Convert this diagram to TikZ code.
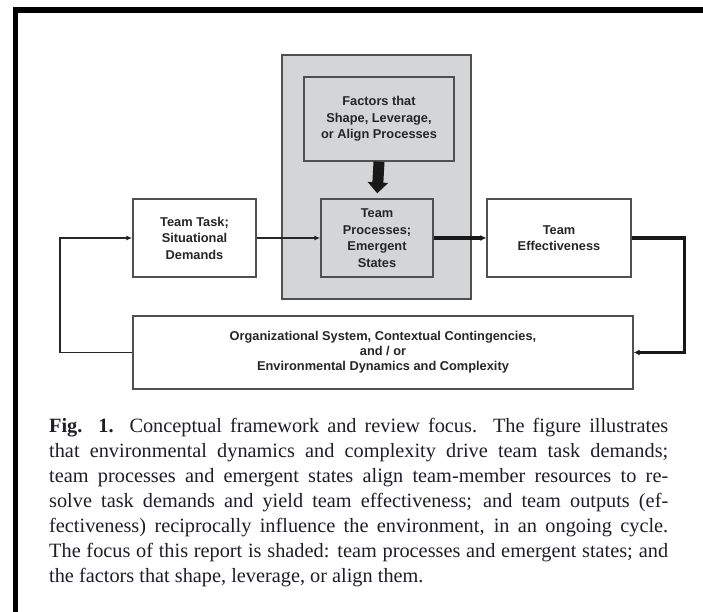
\documentclass[tikz,border=0pt]{standalone}
\usepackage{fontspec}
\setmainfont{Liberation Serif}
\newfontfamily\diagfont{Liberation Sans}
\usetikzlibrary{arrows.meta}
\definecolor{shade}{RGB}{212,213,215}
\definecolor{edge}{RGB}{80,80,80}
\definecolor{capcol}{RGB}{30,30,40}
\begin{document}
\begin{tikzpicture}[x=1pt,y=-1pt,
  box/.style={draw=edge, line width=1.3pt, fill=white, inner sep=0pt,
    font=\diagfont\bfseries\fontsize{12.8}{16.5}\selectfont, text=black!85, align=center},
  thinarrow/.style={draw=black!85, line width=1.8pt, -{Latex[length=6pt,width=5pt]}},
  thickarrow/.style={draw=black!90, line width=3.2pt, -{Latex[length=6pt,width=6pt]}},
  blockarrow/.style={draw=black!90, line width=11pt, -{Triangle[width=20pt,length=11pt]}, shorten >=5pt}
]
\useasboundingbox (0,0) rectangle (703,612);
\fill[white] (0,0) rectangle (703,612);
% frame
\fill[black] (13,7) rectangle (703,13);
\fill[black] (13,7) rectangle (18,612);
% shaded focus
\node[draw=edge, line width=1.3pt, fill=shade, minimum width=189pt, minimum height=244pt, inner sep=0pt] (focus) at (376.5,177) {};
\node[box, fill=shade, minimum width=150pt, minimum height=84pt] (factors) at (379,119) {Factors that\\Shape, Leverage,\\or Align Processes};
\node[box, fill=shade, minimum width=112pt, minimum height=78pt] (proc) at (377,238) {Team\\Processes;\\Emergent\\States};
\node[box, minimum width=123pt, minimum height=78pt] (task) at (194.5,238) {Team Task;\\Situational\\Demands};
\node[box, minimum width=144pt, minimum height=78pt] (eff) at (559,238) {Team\\Effectiveness};
\node[box, minimum width=500pt, minimum height=73pt, font=\diagfont\bfseries\fontsize{12.8}{15}\selectfont] (org) at (383,352.5) {Organizational System, Contextual Contingencies,\\and / or\\Environmental Dynamics and Complexity};
% connectors
\draw[blockarrow] (factors.south) -- (proc.north);
\draw[thinarrow] (task.east) -- (proc.west);
\draw[thickarrow] (proc.east) -- (eff.west);
\draw[thickarrow] (eff.east) -- ++(53,0) |- (org.east);
\draw[thinarrow] (org.west) -- ++(-72,0) |- (task.west);
% caption
\node[anchor=north west, inner sep=0pt, align=left, text=capcol,
  font=\fontsize{20.3}{25}\selectfont] (cap) at (49,418) {%
\makebox[619pt][s]{\textbf{Fig. 1.} Conceptual framework and review focus. The figure illustrates}\\
\makebox[619pt][s]{that environmental dynamics and complexity drive team task demands;}\\
\makebox[619pt][s]{team processes and emergent states align team-member resources to re-}\\
\makebox[619pt][s]{solve task demands and yield team effectiveness; and team outputs (ef-}\\
\makebox[619pt][s]{fectiveness) reciprocally influence the environment, in an ongoing cycle.}\\
\makebox[619pt][s]{The focus of this report is shaded: team processes and emergent states; and}\\
the factors that shape, leverage, or align them.};
\end{tikzpicture}
\end{document}
